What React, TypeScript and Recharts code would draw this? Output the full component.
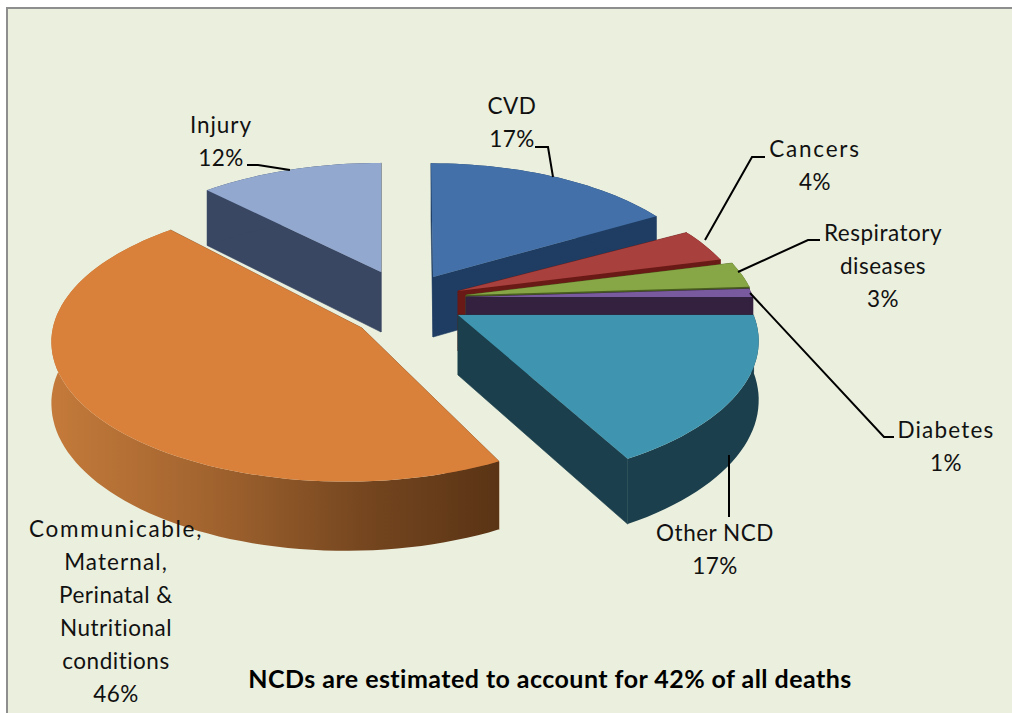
import React from "react";
import { PieChart, Pie } from "recharts";

const categories = ["Injury", "CVD", "Cancers", "Respiratory diseases", "Diabetes", "Other NCD", "Communicable, Maternal, Perinatal & Nutritional conditions"];
const shares = [12, 17, 4, 3, 1, 17, 46];
const labelLines = [["Injury"], ["CVD"], ["Cancers"], ["Respiratory", "diseases"], ["Diabetes"], ["Other NCD"], ["Communicable,", "Maternal,", "Perinatal &", "Nutritional", "conditions"]];
const title = "NCDs are estimated to account for 42% of all deaths";

const topColors = ["#92A8CF", "#4370A8", "#A8403D", "#87A646", "#7A5A9E", "#3F95B0", "#D9803B"];
const wallColors = ["#394763", "#1F3D62", "#6A1A16", "#4A5E20", "#33213F", "#1B3F4C", "#8A5225"];
const offsets = [[-49, -28.5], [1, -31], [28, -14], [36, -10], [36, -8], [28, 10], [-84, 12]];
const apexShift = [[0, -4.5], [2, 3], [0, 0], [0, 0], [0, 0], [0, 0], [16, 11]];
const radiusScale = [1, 0.97, 0.985, 1, 1, 1.03, 1.01];
const rimTrim = [0, 0, 0, 0, 0, 0, 2.5];
const depthScale = [1, 1, 1, 1, 1, 0.96, 1];
const labelAt = [[221, 133], [512, 114], [815, 157], [883, 241], [946, 438], [715, 541], [116, 537]];
const extraSpacing: Record<string, number> = { "Communicable,": 1.7, Cancers: 1.8, "Maternal,": 1.1, Diabetes: 1.2, Injury: 0.9 };
const leaders: number[][][] = [
  [[290, 170], [258, 165], [247, 165]],
  [[553, 177], [548, 147], [535, 147]],
  [[705, 240], [752, 157], [765, 157]],
  [[738, 272], [808, 240], [820, 240]],
  [[750, 293], [884, 437], [894, 437]],
  [[729, 455], [729, 517]],
  [],
];

const CX = 430, CY = 305, R = 287, PERSP = 1616, TILT = 0.466, DEPTH = 60;
const FONT = "Lato, sans-serif";

const rows = categories.map((name, idx) => ({ name, value: shares[idx], idx }));

function point(cx: number, cy: number, r: number, deg: number, drop: number) {
  const t = ((90 - deg) * Math.PI) / 180;
  const X = r * Math.sin(t);
  const Y = -r * Math.cos(t);
  const s = PERSP / (PERSP - Y);
  return [cx + X * s, cy + TILT * Y * s + drop * DEPTH * (0.3 + 0.7 * s)];
}
const toPath = (pts: number[][]) => "M" + pts.map((p) => p[0].toFixed(1) + " " + p[1].toFixed(1)).join("L") + "Z";

function Slice(props: any) {
  const idx = props.idx ?? props.payload?.idx ?? 0;
  const cx = props.cx + offsets[idx][0];
  const cy = props.cy + offsets[idx][1];
  const r = props.outerRadius * radiusScale[idx];
  const a0 = props.startAngle - rimTrim[idx], a1 = props.endAngle;
  const n = Math.max(4, Math.ceil(Math.abs(a1 - a0) / 2));
  const angles = Array.from({ length: n + 1 }, (_, i) => a0 + ((a1 - a0) * i) / n);
  const rimTop = angles.map((a) => point(cx, cy, r, a, 0));
  const rimBot = angles.map((a) => point(cx, cy, r, a, depthScale[idx]));
  const apexTop = [cx + apexShift[idx][0], cy + apexShift[idx][1]];
  const apexBot = [apexTop[0], apexTop[1] + DEPTH];
  const wallFill = idx === 6 ? "url(#orangeWall)" : wallColors[idx];
  return (
    <g>
      {idx === 6 && (
        <defs>
          <linearGradient id="orangeWall" x1="0" y1="0" x2="1" y2="0">
            <stop offset="0" stopColor="#C47A3A" />
            <stop offset="0.35" stopColor="#A2642F" />
            <stop offset="0.7" stopColor="#75461F" />
            <stop offset="1" stopColor="#5A3415" />
          </linearGradient>
        </defs>
      )}
      <path d={toPath([apexTop, rimTop[0], rimBot[0], apexBot])} fill={wallColors[idx]} stroke={wallColors[idx]} strokeWidth={0.6} />
      <path d={toPath([apexTop, rimTop[n], rimBot[n], apexBot])} fill={wallColors[idx]} stroke={wallColors[idx]} strokeWidth={0.6} />
      <path d={toPath([...rimTop, ...rimBot.slice().reverse()])} fill={wallFill} />
      <path d={toPath([apexTop, ...rimTop])} fill={topColors[idx]} />
    </g>
  );
}

function Label(props: any) {
  const idx = props.index ?? props.payload?.idx ?? 0;
  const [x, y] = labelAt[idx];
  const lines = [...labelLines[idx], shares[idx] + "%"];
  const line = leaders[idx];
  return (
    <g>
      {line.length > 0 && (
        <polyline points={line.map((p) => p.join(",")).join(" ")} fill="none" stroke="#000" strokeWidth={2} />
      )}
      <text textAnchor="middle" fontFamily={FONT} fontSize={22.5} fill="#111">
        {lines.map((t, i) => (
          <tspan key={i} x={x} y={y + i * 33} letterSpacing={extraSpacing[t] ?? 0.5}>{t}</tspan>
        ))}
      </text>
    </g>
  );
}

export default function App() {
  return (
    <div style={{ position: "absolute", left: 0, top: 0, width: 1012, height: 713, background: "#fff", overflow: "hidden" }}>
      <div style={{ position: "absolute", left: 6, top: 7, width: 1006, height: 706, background: "#EAEFDE", borderLeft: "2px solid #8E8E8E", borderTop: "2px solid #8E8E8E", boxSizing: "border-box" }} />
      <div style={{ position: "absolute", left: 0, top: 0 }}>
        <PieChart width={1012} height={713} margin={{ top: 0, right: 0, bottom: 0, left: 0 }}>
          <Pie
            data={rows}
            dataKey="value"
            nameKey="name"
            cx={CX}
            cy={CY}
            outerRadius={R}
            startAngle={133.2}
            endAngle={-226.8}
            stroke="none"
            paddingAngle={0}
            isAnimationActive={false}
            shape={Slice}
            label={Label}
            labelLine={false}
          />
          <text x={550} y={688} textAnchor="middle" fontFamily={FONT} fontWeight={700} fontSize={25} letterSpacing={0.45} fill="#000">{title}</text>
        </PieChart>
      </div>
    </div>
  );
}
